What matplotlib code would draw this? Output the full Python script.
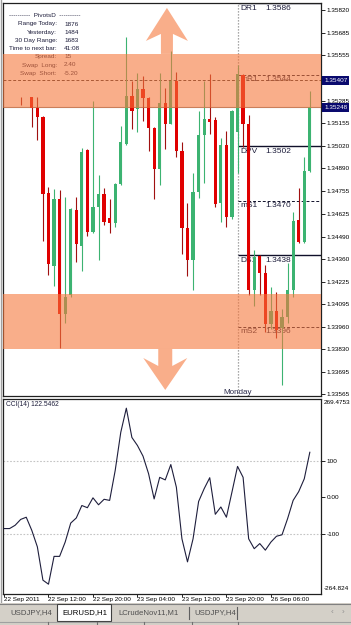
"""
EURUSD H1 — MetaTrader style candles with daily pivots + CCI(14) pane
Output: out.png (351x625)
"""

import numpy as np
import matplotlib.pyplot as plt
import matplotlib.transforms as mtransforms
from matplotlib.patches import Rectangle, Polygon
from matplotlib.lines import Line2D

plt.rcParams['font.family'] = ['Liberation Sans', 'DejaVu Sans']

# ── Data ───────────────────────────────────────────────────────────────────────
nan = np.nan
# hourly bars, 22 Sep 2011 04:00 .. 26 Sep 2011 13:00 (bars 0-2, 4 not visible)
OPEN = [nan, nan, nan, 1.35286, nan, 1.35309, 1.35245, 1.35192, 1.34746, 1.34317,
        1.34711, 1.34036, 1.34147, 1.34646, 1.34435, 1.34998, 1.34517, 1.34664, 1.34740, 1.34599,
        1.34570, 1.34799, 1.35033, 1.35315, 1.35239, 1.35356, 1.35303, 1.35127, 1.34887, 1.35274,
        1.35151, 1.35403, 1.34992, 1.34540, 1.34353, 1.34752, 1.35086, 1.35180, 1.35174, 1.34687,
        1.35028, 1.34605, 1.35104, 1.35438, 1.35151, 1.34176, 1.34376, 1.34276, 1.33977, 1.34053,
        1.33953, 1.34018, 1.34176, 1.34587, 1.34458, 1.34875]
HIGH = [nan, nan, nan, 1.35309, nan, 1.35312, 1.35309, 1.35198, 1.34781, 1.34769,
        1.34763, 1.34722, 1.34658, 1.34722, 1.35010, 1.35004, 1.35286, 1.34851, 1.34775, 1.34711,
        1.34804, 1.35139, 1.35662, 1.35403, 1.35450, 1.35433, 1.35309, 1.35133, 1.35450, 1.35362,
        1.35579, 1.35456, 1.35045, 1.34687, 1.34863, 1.35227, 1.35403, 1.35444, 1.35192, 1.35069,
        1.35110, 1.35233, 1.35497, 1.35444, 1.35204, 1.34411, 1.34380, 1.34323, 1.34194, 1.34165,
        1.34065, 1.34335, 1.34634, 1.34775, 1.34957, 1.35345]
LOW = [nan, nan, nan, 1.35262, nan, 1.35133, 1.35057, 1.34464, 1.34264, 1.34200,
       1.33836, 1.33983, 1.34135, 1.34341, 1.34288, 1.34493, 1.34511, 1.34353, 1.34558, 1.34511,
       1.34546, 1.34793, 1.35028, 1.35122, 1.35104, 1.35168, 1.34992, 1.34711, 1.34793, 1.35004,
       1.35151, 1.34957, 1.34388, 1.34259, 1.34176, 1.34716, 1.34804, 1.35092, 1.34664, 1.34576,
       1.34546, 1.34593, 1.34863, 1.35016, 1.34147, 1.34083, 1.34147, 1.33930, 1.33948, 1.33895,
       1.33619, 1.33983, 1.34135, 1.34452, 1.34452, 1.34870]
CLOSE = [nan, nan, nan, 1.35283, nan, 1.35245, 1.35192, 1.34740, 1.34329, 1.34711,
         1.34036, 1.34135, 1.34652, 1.34446, 1.34987, 1.34517, 1.34664, 1.34740, 1.34576, 1.34570,
         1.34799, 1.35045, 1.35315, 1.35227, 1.35356, 1.35303, 1.35127, 1.34887, 1.35274, 1.35151,
         1.35403, 1.34992, 1.34540, 1.34353, 1.34752, 1.35086, 1.35180, 1.35163, 1.34681, 1.35028,
         1.34605, 1.35227, 1.35444, 1.35151, 1.34176, 1.34370, 1.34276, 1.33977, 1.34053, 1.33942,
         1.34018, 1.34176, 1.34581, 1.34458, 1.34875, 1.35248]
CCI = [-86, -86, -77, -61, -55, -91, -136, -227, -238, -162,
       -162, -123, -71, -57, -23, -29, -2, -21, -6, -9,
       73, 177, 243, 163, 141, 112, 64, -5, 54, 47,
       89, 27, -114, -177, -114, -12, 23, 53, -47, -27,
       -55, 14, 84, 54, -114, -141, -127, -145, -123, -107,
       -103, -59, -9, 15, 50, 122.5462]

TIME_TICKS  = [0, 8, 16, 24, 32, 40, 48]
TIME_LABELS = ["22 Sep 2011", "22 Sep 12:00", "22 Sep 20:00", "23 Sep 04:00",
               "23 Sep 12:00", "23 Sep 20:00", "26 Sep 06:00"]
MONDAY_BAR = 42

PRICE_TICKS = [1.35820, 1.35685, 1.35555, 1.35285, 1.35155, 1.35020, 1.34890, 1.34755,
               1.34625, 1.34490, 1.34360, 1.34225, 1.34095, 1.33960, 1.33830, 1.33695, 1.33565]
PRICE_LIM = (1.33554, 1.35861)
CCI_LIM = (-264.824, 269.4753)

PIVOT_NAMES  = ["DR1", "mR1", "DPV", "mS1", "DS1", "mS2"]
PIVOT_LEVELS = [1.3586, 1.3544, 1.3502, 1.3470, 1.3438, 1.3396]
PIVOT_SOLID  = [True, False, True, False, True, False]

BID = 1.35248
ALERT = 1.35407
UPPER_ZONE = (1.35245, 1.35562)
LOWER_ZONE = (1.33830, 1.34153)

INFO_KEYS = ["Range Today:", "Yesterday:", "30 Day Range:", "Time to next bar:",
             "Spread:", "Swap  Long:", "Swap  Short:"]
INFO_VALS = ["1876", "1484", "1683", "41:08", "15", "2.40", "-5.20"]

TABS = ["USDJPY,H4", "EURUSD,H1", "LCrudeNov11,M1", "USDJPY,H4"]
ACTIVE_TAB = 1

# ── Style ──────────────────────────────────────────────────────────────────────
W, H = 351, 625
UP_COLOR   = "#3CB371"
DOWN_COLOR = "#E00000"
DOWN_WICK  = "#A01010"
ZONE_COLOR = "#F6783C"
ZONE_ALPHA = 0.6
TEXT_DARK  = "#1C1C3A"
GREY       = "#D4D0C8"
AXIS_FS    = 4.6

fig = plt.figure(figsize=(W / 100, H / 100), dpi=100, facecolor="white")
tpx = mtransforms.Affine2D().scale(1, -1).translate(0, H)   # image pixels (y down)


def rect(x0, y0, x1, y1):
    return [x0 / W, 1 - y1 / H, (x1 - x0) / W, (y1 - y0) / H]


ax = fig.add_axes(rect(3, 3, 321, 396))
cax = fig.add_axes(rect(3, 398.5, 321, 594))

x = np.arange(len(OPEN))
o, h, l, c = (np.array(v, dtype=float) for v in (OPEN, HIGH, LOW, CLOSE))
ok = ~np.isnan(o)
up = ok & (c >= o)
dn = ok & (c < o)
XLIM = (-0.18, 57.01)

# ── Main pane ──────────────────────────────────────────────────────────────────
ax.vlines(x[up], l[up], h[up], color=UP_COLOR, lw=0.8, zorder=3)
ax.vlines(x[dn], l[dn], h[dn], color=DOWN_WICK, lw=0.8, zorder=3)
body_lo = np.minimum(o, c)
body_h = np.maximum(np.abs(c - o), 0.00003)
ax.bar(x[up], body_h[up], bottom=body_lo[up], width=0.58, color=UP_COLOR, lw=0, zorder=4)
ax.bar(x[dn], body_h[dn], bottom=body_lo[dn], width=0.58, color=DOWN_COLOR, lw=0, zorder=4)

ax.axvline(MONDAY_BAR, color="#8C8C8C", lw=0.9, ls=(0, (1, 1.4)), zorder=1)
ax.axhline(BID, color="#8A8A8A", lw=0.8, zorder=2)
ax.axhline(ALERT, color="#3A2A2A", lw=0.7, ls=(0, (3, 2)), zorder=2)

for name, lev, solid in zip(PIVOT_NAMES, PIVOT_LEVELS, PIVOT_SOLID):
    ax.hlines(lev, MONDAY_BAR, XLIM[1], color="#10102A", lw=1.0 if solid else 0.7,
              ls="-" if solid else (0, (3, 2)), zorder=2)
    ax.annotate(name, (MONDAY_BAR, lev), xytext=(3, -1.5), textcoords="offset pixels",
                ha="left", va="top", fontsize=6, color=TEXT_DARK, zorder=2)
    ax.annotate(f"{lev:.4f}", (MONDAY_BAR, lev), xytext=(28, -1.5), textcoords="offset pixels",
                ha="left", va="top", fontsize=6, color=TEXT_DARK, zorder=2)

ax.text(MONDAY_BAR, PRICE_LIM[0], "Monday", ha="center", va="bottom", fontsize=5.8,
        color="#2C2C4C", zorder=2)

# info panel of the PivotsD indicator
ax.text(45, 15.5, "----------  PivotsD  ----------", transform=tpx, ha="center",
        va="center", fontsize=4.6, color=TEXT_DARK, zorder=5)
for k, (key, val) in enumerate(zip(INFO_KEYS, INFO_VALS)):
    yy = 24 + k * 8.2
    ax.text(57, yy, key, transform=tpx, ha="right", va="center", fontsize=4.6,
            color=TEXT_DARK, zorder=5)
    ax.text(64, yy, val, transform=tpx, ha="left", va="center", fontsize=4.6,
            color=TEXT_DARK, zorder=5)

# supply / demand zones drawn over the candles
for lo, hi in (UPPER_ZONE, LOWER_ZONE):
    ax.axhspan(lo, hi, color=ZONE_COLOR, alpha=ZONE_ALPHA, lw=0, zorder=6)

# big arrow objects anchored at the zone edges (shape in pixels)
UP_SHAPE = [(-6, 0), (-6, 20), (-21, 13), (0, 46), (21, 13), (6, 20), (6, 0)]
DOWN_SHAPE = [(-7, 0), (-7, -17), (-22, -9), (0, -41), (22, -9), (7, -17), (7, 0)]
for shape, anchor in ((UP_SHAPE, (29.3, UPPER_ZONE[1])), (DOWN_SHAPE, (29.0, LOWER_ZONE[0]))):
    tr = mtransforms.ScaledTranslation(anchor[0], anchor[1], ax.transData)
    ax.add_patch(Polygon(shape, closed=True, transform=mtransforms.IdentityTransform() + tr,
                         fc=ZONE_COLOR, alpha=ZONE_ALPHA, lw=0, zorder=6, clip_on=False))

ax.set_xlim(XLIM)
ax.set_ylim(PRICE_LIM)
ax.set_xticks([])
ax.yaxis.tick_right()
ax.set_yticks(PRICE_TICKS)
ax.set_yticklabels([f"{v:.5f}" for v in PRICE_TICKS])
ax.tick_params(axis="y", length=3, width=0.6, pad=1, labelsize=AXIS_FS, colors="black")

px_y = mtransforms.blended_transform_factory(mtransforms.IdentityTransform(), ax.transData)
for v in (ALERT, BID):
    ax.text(324, v, f"{v:.5f}", transform=px_y, ha="left", va="center", fontsize=AXIS_FS,
            color="white", zorder=8, clip_on=False,
            bbox=dict(boxstyle="square,pad=0.3", fc="#0A0A6E", ec="none"))

# ── CCI pane ───────────────────────────────────────────────────────────────────
cax.plot(x, CCI, color="#1E1E3C", lw=0.8, zorder=3)
for lev in (100, -100):
    cax.axhline(lev, color="#C4C4C4", lw=0.8, ls=(0, (1.5, 1.5)), zorder=1)
cax.set_xlim(XLIM)
cax.set_ylim(CCI_LIM)
cax.yaxis.tick_right()
cax.set_yticks([100, 0, -100])
cax.set_yticklabels(["100", "0.00", "-100"])
cax.tick_params(axis="y", length=3, width=0.6, pad=1, labelsize=AXIS_FS, colors="black")
cax.set_xticks(TIME_TICKS)
cax.set_xticklabels(TIME_LABELS)
cax.tick_params(axis="x", length=2, width=0.6, pad=0.5, labelsize=AXIS_FS, colors="black")
for lbl in cax.get_xticklabels():
    lbl.set_ha("left")
fig.text(324, 402, f"{CCI_LIM[1]:.4f}", transform=tpx, ha="left", va="center",
         fontsize=AXIS_FS, color="black")
fig.text(324, 588, f"{CCI_LIM[0]:.3f}", transform=tpx, ha="left", va="center",
         fontsize=AXIS_FS, color="black")
cax.text(6, 404, f"CCI(14) {CCI[-1]:.4f}", transform=tpx, ha="left", va="center",
         fontsize=4.8, color=TEXT_DARK)

for a in (ax, cax):
    for sp in a.spines.values():
        sp.set_color("#202020")
        sp.set_linewidth(0.9)

# ── Window chrome: left border, tab bar, status bar ────────────────────────────
chrome = dict(transform=tpx, zorder=-1)
fig.add_artist(Line2D([0.5, 0.5], [0, 603], color="#A0A0A0", lw=1, **chrome))
fig.add_artist(Rectangle((0, 603), W, 22, fc=GREY, ec="none", **chrome))
fig.add_artist(Line2D([0, W], [603.5, 603.5], color="#808080", lw=0.8, **chrome))
fig.add_artist(Rectangle((57, 603.5), 54, 17.5, fc="white", ec="#404040", lw=0.8, **chrome))
tab_x = [10, 62, 118, 194]
for k, (tx, name) in enumerate(zip(tab_x, TABS)):
    fig.text(tx, 612.5, name, transform=tpx, ha="left", va="center", fontsize=5.6,
             color="black" if k == ACTIVE_TAB else "#505050")
for sx in (189, 237):
    fig.add_artist(Line2D([sx, sx], [607, 619], color="#606060", lw=0.8, **chrome))
fig.text(332, 612.5, "\u2039", transform=tpx, ha="center", va="center", fontsize=6, color="#909090")
fig.text(343, 612.5, "\u203a", transform=tpx, ha="center", va="center", fontsize=6, color="#909090")
fig.add_artist(Line2D([0, W], [621.5, 621.5], color="#A0A0A0", lw=0.8, **chrome))
for sx in (48, 97, 144, 192, 238):
    fig.add_artist(Line2D([sx, sx], [622, 625], color="#707070", lw=0.8, **chrome))

fig.savefig("out.png", dpi=100, facecolor=fig.get_facecolor())
